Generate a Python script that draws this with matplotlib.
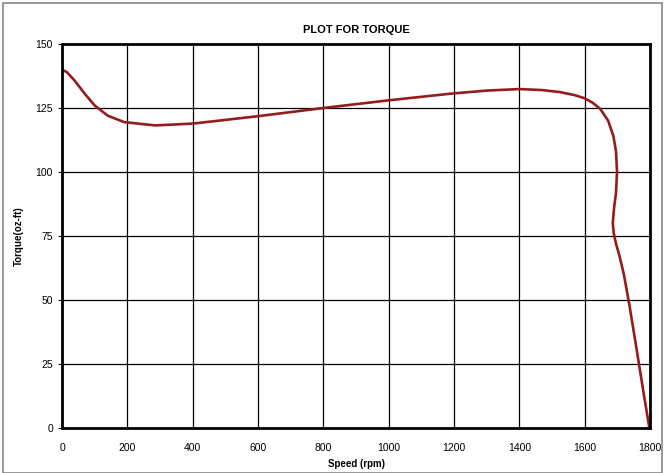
import matplotlib.pyplot as plt
from matplotlib.patches import Rectangle

plt.rcParams['font.family'] = ['Liberation Sans', 'DejaVu Sans']

# torque curve (speed rpm, torque oz-ft)
speed = [0, 15, 40, 70, 100, 140, 190, 285, 400, 600, 800, 1000, 1190,
         1300, 1400, 1470, 1525, 1570, 1600, 1625, 1648, 1672, 1688, 1696,
         1699, 1696, 1690, 1686, 1689, 1696, 1706, 1720, 1737, 1760, 1780, 1798]
torque = [140, 139, 135.5, 130.5, 126, 122, 119.5, 118.2, 118.9, 121.8, 125,
          128, 130.6, 131.8, 132.4, 132, 131.2, 130, 128.8, 127, 124.6, 120,
          114, 108, 100, 92, 86, 80, 76, 72, 67.5, 60, 48, 30, 14, 0]

xticks = list(range(0, 1801, 200))
yticks = list(range(0, 151, 25))

fig = plt.figure(figsize=(6.65, 4.73), dpi=100)
ax = fig.add_axes([62 / 665, 45 / 473, 588 / 665, 384 / 473])

ax.plot(speed, torque, color='#951c1c', lw=1.9, solid_capstyle='round',
        solid_joinstyle='round')

ax.set_xlim(0, 1800)
ax.set_ylim(0, 150)
ax.set_xticks(xticks)
ax.set_yticks(yticks)
ax.grid(True, color='black', lw=0.9)
ax.set_axisbelow(True)
for s in ax.spines.values():
    s.set_linewidth(2)
ax.tick_params(axis='both', labelsize=7.5, length=3, width=0.8, colors='black')
ax.tick_params(axis='x', length=0, pad=11)

ax.set_title('PLOT FOR TORQUE', fontsize=8, fontweight='bold', pad=8)
ax.set_xlabel('Speed (rpm)', fontsize=7, fontweight='bold', labelpad=4)
ax.set_ylabel('Torque(oz-ft)', fontsize=7, fontweight='bold', labelpad=8)

fig.patches.append(Rectangle((3 / 665, 0), 659 / 665, 470 / 473, transform=fig.transFigure,
                             fill=False, ec='#888888', lw=1.2))

plt.savefig('out.png', dpi=100)
plt.close()
